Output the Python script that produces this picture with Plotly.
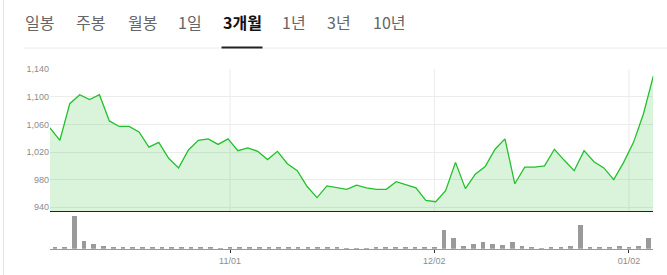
import pandas as pd
import plotly.graph_objects as go

# ---- data ----
tabs = ["일봉", "주봉", "월봉", "1일", "3개월", "1년", "3년", "10년"]
selected_tab = "3개월"
holidays = ["2019-10-09", "2019-12-25", "2019-12-31", "2020-01-01"]
dates = pd.bdate_range("2019-10-07", "2020-01-06", freq="C", holidays=holidays)

price = [1055, 1037, 1090, 1103, 1096, 1103, 1065, 1057, 1057, 1049,
         1027, 1034, 1011, 997, 1023, 1037, 1039, 1031, 1039, 1022,
         1026, 1021, 1009, 1021, 1003, 993, 970, 954, 971, 968,
         966, 972, 968, 966, 966, 977, 973, 968, 950, 948,
         964, 1005, 967, 988, 999, 1024, 1039, 974, 998, 998,
         1000, 1024, 1008, 993, 1022, 1006, 997, 980, 1005, 1034,
         1075, 1130]
volume = [200, 200, 4900, 1200, 700, 400, 250, 200, 200, 200,
          200, 200, 200, 200, 200, 200, 300, 50, 200, 200,
          200, 200, 200, 200, 200, 200, 200, 200, 200, 200,
          50, 50, 50, 200, 200, 200, 200, 200, 200, 200,
          2750, 1600, 400, 700, 1000, 650, 550, 950, 350, 200,
          100, 200, 200, 400, 3500, 250, 200, 200, 350, 200,
          400, 1600]
price_ticks = [940, 980, 1020, 1060, 1100, 1140]

W, H = 667, 275
N = len(price)
idx = list(range(N))
month_starts = [i for i in range(1, N) if dates[i].month != dates[i - 1].month]
month_labels = [dates[i].strftime("%m/%d") for i in month_starts]

def px_x(p):
    return p / W

def px_y(p):
    return 1 - p / H

x_dom = [px_x(50), px_x(653.3)]

fig = go.Figure()
fig.add_trace(go.Scatter(
    x=idx, y=price, mode="lines",
    line=dict(color="#22c02c", width=1.3),
    fill="tozeroy", fillcolor="rgba(34,192,44,0.17)",
    xaxis="x", yaxis="y", hoverinfo="skip", showlegend=False))
fig.add_trace(go.Bar(
    x=idx, y=volume, width=0.48, marker=dict(color="#9a9a9a", line=dict(width=0)),
    xaxis="x2", yaxis="y2", hoverinfo="skip", showlegend=False))

shapes = []
for m in month_starts:
    shapes.append(dict(type="line", xref="x2", yref="y domain", x0=m, x1=m, y0=0, y1=1,
                       line=dict(color="#ebebeb", width=1), layer="below"))
# frame lines
shapes.append(dict(type="line", xref="paper", yref="paper", x0=px_x(3.5), x1=px_x(3.5),
                   y0=0, y1=1, line=dict(color="#e6e6e6", width=1)))
shapes.append(dict(type="line", xref="paper", yref="paper", x0=px_x(24), x1=1,
                   y0=px_y(48), y1=px_y(48), line=dict(color="#eaeaea", width=1)))

tab_centers = [39.5, 90.7, 142, 190, 242, 294, 339, 389]
annotations = []
for t, cx in zip(tabs, tab_centers):
    sel = t == selected_tab
    annotations.append(dict(
        text=("<b>%s</b>" % t) if sel else t, x=px_x(cx), y=px_y(22),
        xref="paper", yref="paper", showarrow=False, xanchor="center", yanchor="middle",
        font=dict(family="Noto Sans CJK KR", size=16, color="#111" if sel else "#666")))
    if sel:
        shapes.append(dict(type="line", xref="paper", yref="paper",
                           x0=px_x(cx - 20.5), x1=px_x(cx + 20.5), y0=px_y(47.5), y1=px_y(47.5),
                           line=dict(color="#222", width=2)))

tickfont = dict(family="Liberation Sans, Arial", size=9, color="#8c8c8c")
fig.update_layout(
    width=W, height=H, margin=dict(l=0, r=0, t=0, b=0),
    paper_bgcolor="white", plot_bgcolor="white",
    shapes=shapes, annotations=annotations, bargap=0,
    xaxis=dict(domain=x_dom, range=[0, N - 1], showgrid=False, showticklabels=False,
               zeroline=False, showline=True, linecolor="#222", linewidth=1.2,
               anchor="y", fixedrange=True),
    yaxis=dict(domain=[px_y(211), px_y(69)], range=[934.6, 1140.2], tickvals=price_ticks,
               tickformat=",d", gridcolor="#ececec", gridwidth=1, zeroline=False,
               showline=False, tickfont=tickfont, ticks="", anchor="x", automargin=False),
    xaxis2=dict(domain=x_dom, range=[-0.5, N - 0.5], tickvals=month_starts, ticktext=month_labels,
                ticks="outside", ticklen=3, tickcolor="#333", tickwidth=1,
                showgrid=False, zeroline=False, showline=True, linecolor="#999", linewidth=1,
                tickfont=tickfont, anchor="y2", automargin=False),
    yaxis2=dict(domain=[px_y(248.7), px_y(214)], range=[0, 5200], visible=False, anchor="x2"),
)
fig.write_html("out.html")
